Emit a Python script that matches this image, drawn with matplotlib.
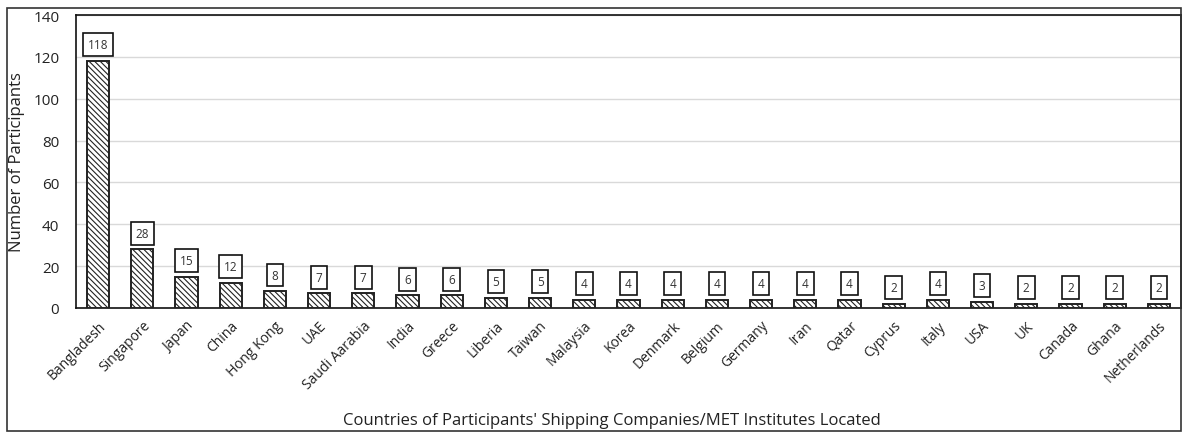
import matplotlib

matplotlib.use("Agg")
import matplotlib.pyplot as plt
from matplotlib.patches import Rectangle
import numpy as np

countries = [
    "Bangladesh", "Singapore", "Japan", "China", "Hong Kong", "UAE",
    "Saudi Aarabia", "India", "Greece", "Liberia", "Taiwan", "Malaysia",
    "Korea", "Denmark", "Belgium", "Germany", "Iran", "Qatar", "Cyprus",
    "Italy", "USA", "UK", "Canada", "Ghana", "Netherlands",
]
participants = [118, 28, 15, 12, 8, 7, 7, 6, 6, 5, 5, 4, 4, 4, 4, 4, 4, 4, 2, 4, 3, 2, 2, 2, 2]
y_ticks = [0, 20, 40, 60, 80, 100, 120, 140]

plt.rcParams["font.family"] = ["Open Sans", "DejaVu Sans"]
plt.rcParams["hatch.linewidth"] = 0.8
plt.rcParams["hatch.color"] = "#555555"

W, H = 1192, 439
fig = plt.figure(figsize=(W / 100, H / 100), dpi=100)
ax = fig.add_axes([76 / W, 1 - 309 / H, (1181 - 76) / W, (309 - 16) / H])

x = np.arange(len(countries))
bars = ax.bar(x, participants, width=0.5, color="white", edgecolor="#222222",
              linewidth=1.4, hatch="\\" * 6, zorder=3)

for xi, v in zip(x, participants):
    ax.annotate(str(v), (xi, v), xytext=(0, 7), textcoords="offset points",
                ha="center", va="bottom", fontsize=8.5, color="#333333",
                bbox=dict(boxstyle="square,pad=0.42", fc="white", ec="#111111", lw=1.2),
                zorder=4)

ax.set_xlim(-0.5, len(countries) - 0.5)
ax.set_ylim(0, 140)
ax.set_yticks(y_ticks)
ax.set_xticks(x)
ax.set_xticklabels(countries, rotation=45, ha="right", rotation_mode="anchor", fontsize=10)
ax.tick_params(axis="both", length=0, colors="#222222")
ax.tick_params(axis="y", labelsize=11, pad=12)
ax.tick_params(axis="x", pad=7)
ax.grid(True, axis="y", color="#d9d9d9", linewidth=1, zorder=0)
ax.set_axisbelow(True)
for sp in ax.spines.values():
    sp.set_color("#111111")
    sp.set_linewidth(1.2)

fig.text(17 / W, 1 - 162 / H, "Number of Participants", rotation=90,
         ha="center", va="center", fontsize=12, color="#222222")
fig.text(612 / W, 1 - 421 / H,
         "Countries of Participants' Shipping Companies/MET Institutes Located",
         ha="center", va="center", fontsize=12, color="#222222")

# outer frame around the whole figure
fig.patches.append(Rectangle((7 / W, 1 - 432 / H), (1181 - 7) / W, (432 - 9) / H,
                             transform=fig.transFigure, fill=False,
                             ec="#333333", lw=1.2))

fig.savefig("out.png", dpi=100)
plt.close(fig)
